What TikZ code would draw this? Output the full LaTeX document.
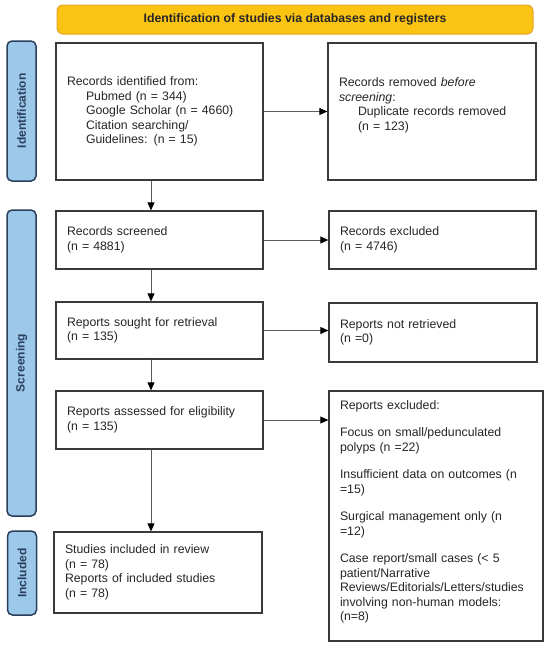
\documentclass[tikz,border=0pt]{standalone}
\usepackage{fontspec}
\setmainfont{Liberation Sans}
\usetikzlibrary{arrows.meta}
\definecolor{pfyellow}{HTML}{FBC312}
\definecolor{pfyedge}{HTML}{E8A32A}
\definecolor{pfblue}{HTML}{9CC8EA}
\definecolor{pfnavy}{HTML}{2B3F5C}
\definecolor{pfline}{HTML}{3A3A3A}
\definecolor{pfarrow}{HTML}{5C5C5C}
\definecolor{pftext}{HTML}{262626}
\tikzset{
  stage/.style={rectangle,draw=pfline,fill=white,line width=1.3pt,align=left,inner xsep=11pt,inner ysep=0pt,text=pftext,font=\fontsize{12.3}{14.5}\selectfont},
  phase/.style={rectangle,rounded corners=5pt,draw=pfnavy,fill=pfblue,line width=1.5pt,rotate=90,minimum height=29pt,inner sep=0pt,text=pfnavy,font=\fontsize{12}{14}\selectfont\bfseries},
  banner/.style={rectangle,rounded corners=6pt,draw=pfyedge,fill=pfyellow,line width=1pt,minimum width=476pt,minimum height=29pt,inner sep=0pt,text=pftext,font=\fontsize{12.3}{14}\selectfont\bfseries},
  flow/.style={-{Triangle[length=8pt,width=7pt,color=black]},draw=pfarrow,line width=.8pt},
}
\begin{document}
\begin{tikzpicture}[x=1pt,y=-1pt]
  \useasboundingbox (0,0) rectangle (550,648);
  \node[banner] (head) at (295,19.5) {Identification of studies via databases and registers};
  \node[phase,minimum width=140pt] (pident) at (21.5,111) {Identification};
  \node[phase,minimum width=306pt] (pscreen) at (21.5,363) {Screening};
  \node[phase,minimum width=84pt] (pincl) at (22,573) {Included};
  \node[stage,text width=185pt,minimum height=137pt] (ident) at (159.5,111.5) {Records identified from:\\\hspace*{19pt}Pubmed (n = 344)\\\hspace*{19pt}Google Scholar (n = 4660)\\\hspace*{19pt}Citation searching/\\\hspace*{19pt}Guidelines: (n = 15)};
  \node[stage,text width=186pt,minimum height=137pt] (dup) at (432,111.5) {Records removed \textit{before}\\\textit{screening}:\\\hspace*{19pt}Duplicate records removed\\\hspace*{19pt}(n = 123)\\\mbox{}};
  \node[stage,text width=185pt,minimum height=58pt] (screened) at (159.5,240) {Records screened\\(n = 4881)};
  \node[stage,text width=185pt,minimum height=58pt] (excl) at (432.5,240) {Records excluded\\(n = 4746)};
  \node[stage,text width=185pt,minimum height=57pt] (sought) at (159.5,330.5) {Reports sought for retrieval\\(n = 135)};
  \node[stage,text width=186pt,minimum height=59pt] (notret) at (433,332.5) {Reports not retrieved\\(n =0)};
  \node[stage,text width=185pt,minimum height=58pt] (assessed) at (159.5,420) {Reports assessed for eligibility\\(n = 135)};
  \node[stage,text width=192pt,minimum height=250pt] (rexcl) at (436,516) {Reports excluded:\\[13pt]Focus on small/pedunculated\\polyps (n =22)\\[13pt]Insufficient data on outcomes (n\\=15)\\[13pt]Surgical management only (n\\=12)\\[13pt]Case report/small cases (< 5\\patient/Narrative\\Reviews/Editorials/Letters/studies\\involving non-human models:\\(n=8)\\[-4pt]\mbox{}};
  \node[stage,text width=186pt,minimum height=81pt] (studies) at (158,572.5) {Studies included in review\\(n = 78)\\Reports of included studies\\(n = 78)};
  \coordinate (spine) at (151,0);
  \draw[flow] (ident.east) -- (ident.east -| dup.west);
  \draw[flow] (screened.east) -- (screened.east -| excl.west);
  \draw[flow] (sought.east) -- (sought.east -| notret.west);
  \draw[flow] (assessed.east) -- (assessed.east -| rexcl.west);
  \draw[flow] (ident.south -| spine) -- (screened.north -| spine);
  \draw[flow] (screened.south -| spine) -- (sought.north -| spine);
  \draw[flow] (sought.south -| spine) -- (assessed.north -| spine);
  \draw[flow] (assessed.south -| spine) -- (studies.north -| spine);
\end{tikzpicture}
\end{document}
